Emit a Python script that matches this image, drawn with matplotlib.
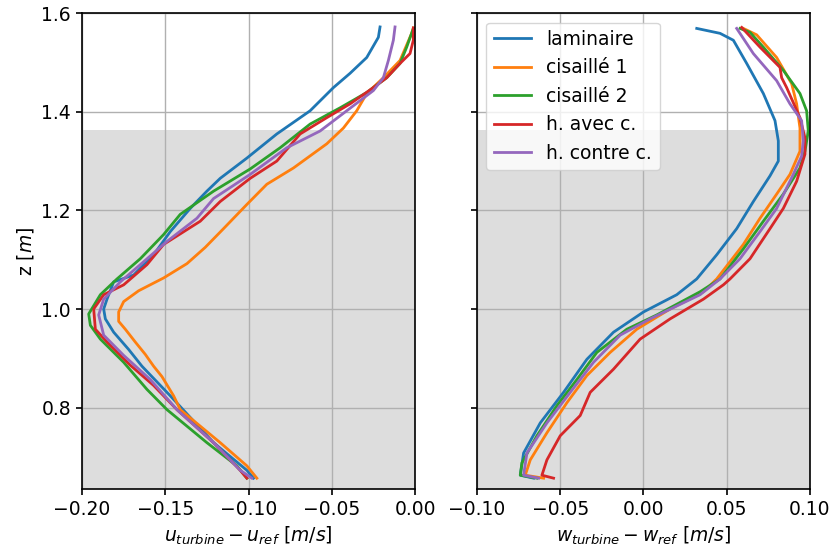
import matplotlib
matplotlib.use("Agg")
import matplotlib.pyplot as plt
import numpy as np

LABELS = ["laminaire", "cisaillé 1", "cisaillé 2", "h. avec c.", "h. contre c."]
COLORS = ["#1f77b4", "#ff7f0e", "#2ca02c", "#d62728", "#9467bd"]

# u_turbine - u_ref profiles (u, z)
u_lam = [(-0.021, 1.572), (-0.022, 1.551), (-0.029, 1.510), (-0.039, 1.478), (-0.049, 1.449),
         (-0.063, 1.402), (-0.083, 1.355), (-0.101, 1.306), (-0.117, 1.265), (-0.125, 1.239),
         (-0.135, 1.204), (-0.147, 1.157), (-0.157, 1.110), (-0.169, 1.069), (-0.181, 1.055),
         (-0.185, 1.020), (-0.187, 1.000), (-0.186, 0.980), (-0.181, 0.953), (-0.172, 0.918),
         (-0.164, 0.884), (-0.147, 0.824), (-0.121, 0.729), (-0.101, 0.673), (-0.097, 0.657)]
u_cis1 = [(-0.001, 1.570), (-0.002, 1.559), (-0.009, 1.504), (-0.019, 1.469), (-0.029, 1.437),
          (-0.035, 1.402), (-0.043, 1.367), (-0.053, 1.335), (-0.073, 1.286), (-0.089, 1.253),
          (-0.101, 1.212), (-0.115, 1.163), (-0.126, 1.125), (-0.137, 1.092), (-0.151, 1.063),
          (-0.166, 1.037), (-0.175, 1.015), (-0.178, 0.994), (-0.178, 0.975), (-0.174, 0.959),
          (-0.168, 0.933), (-0.162, 0.908), (-0.157, 0.884), (-0.152, 0.863), (-0.145, 0.824),
          (-0.141, 0.796), (-0.117, 0.729), (-0.101, 0.682), (-0.095, 0.657)]
u_cis2 = [(-0.001, 1.569), (-0.005, 1.531), (-0.009, 1.498), (-0.017, 1.469), (-0.029, 1.439),
          (-0.045, 1.408), (-0.063, 1.375), (-0.081, 1.327), (-0.099, 1.284), (-0.121, 1.239),
          (-0.141, 1.192), (-0.151, 1.151), (-0.165, 1.102), (-0.179, 1.061), (-0.189, 1.029),
          (-0.196, 0.990), (-0.195, 0.967), (-0.189, 0.939), (-0.175, 0.892), (-0.161, 0.837),
          (-0.149, 0.796), (-0.125, 0.729), (-0.107, 0.682), (-0.101, 0.657)]
u_avec = [(-0.001, 1.570), (-0.001, 1.545), (-0.003, 1.518), (-0.009, 1.498), (-0.017, 1.469),
          (-0.025, 1.449), (-0.039, 1.416), (-0.053, 1.388), (-0.069, 1.355), (-0.083, 1.300),
          (-0.099, 1.265), (-0.117, 1.218), (-0.129, 1.178), (-0.151, 1.131), (-0.161, 1.090),
          (-0.175, 1.049), (-0.187, 1.029), (-0.193, 1.000), (-0.192, 0.959), (-0.185, 0.933),
          (-0.171, 0.886), (-0.157, 0.845), (-0.143, 0.796), (-0.121, 0.729), (-0.105, 0.673),
          (-0.101, 0.657)]
u_contre = [(-0.012, 1.572), (-0.013, 1.545), (-0.016, 1.504), (-0.019, 1.469), (-0.025, 1.443),
            (-0.041, 1.402), (-0.057, 1.361), (-0.077, 1.327), (-0.099, 1.273), (-0.121, 1.224),
            (-0.131, 1.184), (-0.149, 1.137), (-0.165, 1.090), (-0.177, 1.055), (-0.187, 1.020),
            (-0.190, 0.988), (-0.187, 0.947), (-0.175, 0.906), (-0.159, 0.857), (-0.143, 0.796),
            (-0.121, 0.729), (-0.105, 0.673), (-0.098, 0.657)]

# w_turbine - w_ref profiles (w, z)
w_lam = [(0.032, 1.569), (0.046, 1.559), (0.054, 1.545), (0.062, 1.498), (0.072, 1.437),
         (0.079, 1.382), (0.081, 1.341), (0.081, 1.300), (0.076, 1.270), (0.066, 1.218),
         (0.056, 1.163), (0.044, 1.110), (0.032, 1.061), (0.020, 1.029), (0.000, 0.994),
         (-0.018, 0.953), (-0.034, 0.898), (-0.048, 0.831), (-0.062, 0.769), (-0.072, 0.708),
         (-0.074, 0.663), (-0.066, 0.657)]
w_cis1 = [(0.060, 1.569), (0.068, 1.556), (0.080, 1.510), (0.089, 1.457), (0.092, 1.416),
          (0.094, 1.367), (0.094, 1.320), (0.088, 1.273), (0.080, 1.233), (0.070, 1.184),
          (0.060, 1.131), (0.044, 1.061), (0.036, 1.035), (0.016, 1.000), (-0.004, 0.959),
          (-0.020, 0.912), (-0.034, 0.865), (-0.046, 0.810), (-0.058, 0.749), (-0.068, 0.694),
          (-0.071, 0.663), (-0.060, 0.657)]
w_cis2 = [(0.058, 1.569), (0.064, 1.561), (0.072, 1.531), (0.084, 1.484), (0.094, 1.437),
          (0.098, 1.402), (0.099, 1.361), (0.097, 1.320), (0.094, 1.286), (0.084, 1.233),
          (0.072, 1.178), (0.060, 1.122), (0.046, 1.061), (0.034, 1.035), (0.008, 0.988),
          (-0.010, 0.959), (-0.028, 0.912), (-0.040, 0.857), (-0.052, 0.804), (-0.064, 0.743),
          (-0.073, 0.688), (-0.074, 0.663), (-0.064, 0.657)]
w_avec = [(0.059, 1.571), (0.070, 1.531), (0.082, 1.490), (0.083, 1.469), (0.086, 1.449),
          (0.094, 1.388), (0.097, 1.347), (0.097, 1.314), (0.092, 1.259), (0.084, 1.204),
          (0.076, 1.163), (0.064, 1.102), (0.052, 1.061), (0.048, 1.049), (0.036, 1.020),
          (0.016, 0.980), (-0.002, 0.939), (-0.018, 0.878), (-0.032, 0.831), (-0.038, 0.784),
          (-0.050, 0.743), (-0.058, 0.694), (-0.061, 0.663), (-0.054, 0.657)]
w_contre = [(0.056, 1.569), (0.066, 1.518), (0.080, 1.463), (0.088, 1.416), (0.095, 1.382),
            (0.096, 1.341), (0.095, 1.310), (0.090, 1.273), (0.080, 1.204), (0.070, 1.157),
            (0.058, 1.102), (0.046, 1.061), (0.034, 1.029), (0.004, 0.980), (-0.014, 0.947),
            (-0.030, 0.892), (-0.044, 0.831), (-0.058, 0.769), (-0.070, 0.708), (-0.072, 0.663),
            (-0.063, 0.657)]

U_PROFILES = [u_lam, u_cis1, u_cis2, u_avec, u_contre]
W_PROFILES = [w_lam, w_cis1, w_cis2, w_avec, w_contre]

Z_TOP_ROTOR = 1.362
YLIM = (0.635, 1.6)

plt.rcParams["font.size"] = 13.5
plt.rcParams["axes.linewidth"] = 1.2

fig = plt.figure(figsize=(8.32, 5.54), dpi=100)
ax1 = fig.add_axes([0.0986, 0.1173, 0.4002, 0.859])
ax2 = fig.add_axes([0.5733, 0.1173, 0.4002, 0.859], sharey=ax1)

for ax, profiles in [(ax1, U_PROFILES), (ax2, W_PROFILES)]:
    ax.axhspan(YLIM[0], Z_TOP_ROTOR, color="#dddddd", zorder=0, linewidth=0)
    for prof, lab, col in zip(profiles, LABELS, COLORS):
        arr = np.array(prof)
        ax.plot(arr[:, 0], arr[:, 1], color=col, lw=2, label=lab, zorder=2)
    ax.grid(True, color="#b0b0b0", lw=1.0)
    ax.set_axisbelow(True)
    ax.tick_params(length=4.5, width=1.2)

ax1.set_xlim(-0.2, 0.0)
ax1.set_xticks([-0.2, -0.15, -0.1, -0.05, 0.0])
ax1.set_ylim(*YLIM)
ax1.set_yticks([0.8, 1.0, 1.2, 1.4, 1.6])
ax1.set_xlabel(r"$u_{turbine} - u_{ref}$ $[m/s]$")
ax1.set_ylabel(r"z $[m]$")

ax2.set_xlim(-0.1, 0.1)
ax2.set_xticks([-0.1, -0.05, 0.0, 0.05, 0.1])
ax2.tick_params(labelleft=False)
ax2.set_xlabel(r"$w_{turbine} - w_{ref}$ $[m/s]$")
ax2.legend(loc="upper left")

fig.savefig("out.png", dpi=100)
